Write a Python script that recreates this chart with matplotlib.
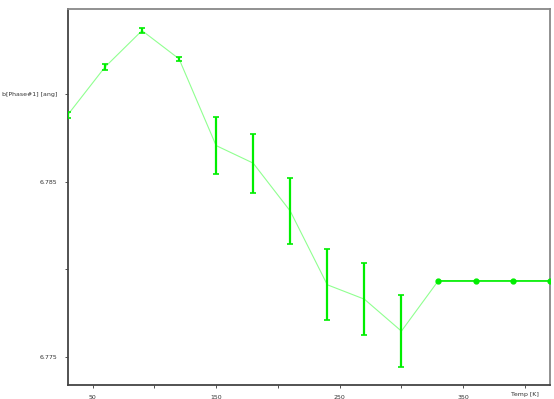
import matplotlib
matplotlib.use("Agg")
import matplotlib.pyplot as plt

# Temperature steps (K) and refined parameter b of phase #1 (angstrom)
temps = [30, 60, 90, 120, 150, 180, 210, 240, 270, 300, 330, 360, 390, 420]
b_vals = [6.78881, 6.79152, 6.79360, 6.79199, 6.78705, 6.78605, 6.78332,
          6.77912, 6.77830, 6.77648, 6.77936, 6.77936, 6.77936, 6.77936]
b_errs = [0.00017, 0.00015, 0.00012, 0.00012, 0.00160, 0.00168, 0.00187,
          0.00202, 0.00205, 0.00207, 0.0, 0.0, 0.0, 0.0]
n_refined = 10   # last points were fixed (no esd)

x_ticks = [50, 100, 150, 200, 250, 300, 350, 400]
x_labels = ["50", "", "150", "", "250", "", "350", "Temp [K]"]
y_ticks = [6.775, 6.780, 6.785, 6.790]
y_labels = ["6.775", "", "6.785", "b[Phase#1] [ang]"]

fig = plt.figure(figsize=(5.54, 3.99), dpi=100)
ax = fig.add_axes([68 / 554, 1 - 385 / 399, (550 - 68) / 554, (385 - 9) / 399])

ax.plot(temps, b_vals, color="#90ff90", lw=0.8, zorder=2)
ax.errorbar(temps[:n_refined], b_vals[:n_refined], yerr=b_errs[:n_refined],
            fmt="none", ecolor="#00ee00", elinewidth=1.6, capsize=2, capthick=1.2, zorder=3)
ax.plot(temps[n_refined:], b_vals[n_refined:], color="#00ee00", lw=1.2,
        marker="o", ms=3.5, zorder=4)

ax.set_xlim(30.1, 420.3)
ax.set_ylim(6.77341, 6.79483)
ax.set_xticks(x_ticks)
ax.set_xticklabels(x_labels)
ax.set_yticks(y_ticks)
ax.set_yticklabels(y_labels)
ax.tick_params(labelsize=4.5, length=2, width=0.6, colors="#333333")
ax.tick_params(axis="y", pad=6)
ax.tick_params(axis="x", pad=5)
# the axis title sits a little higher than the other tick labels
ax.get_xticklabels()[-1].set_y(0.006)

for side in ("left", "bottom"):
    ax.spines[side].set_color("#444444")
    ax.spines[side].set_linewidth(1.3)
for side in ("top", "right"):
    ax.spines[side].set_color("#888888")
    ax.spines[side].set_linewidth(1.3)

fig.savefig("out.png", dpi=100)
